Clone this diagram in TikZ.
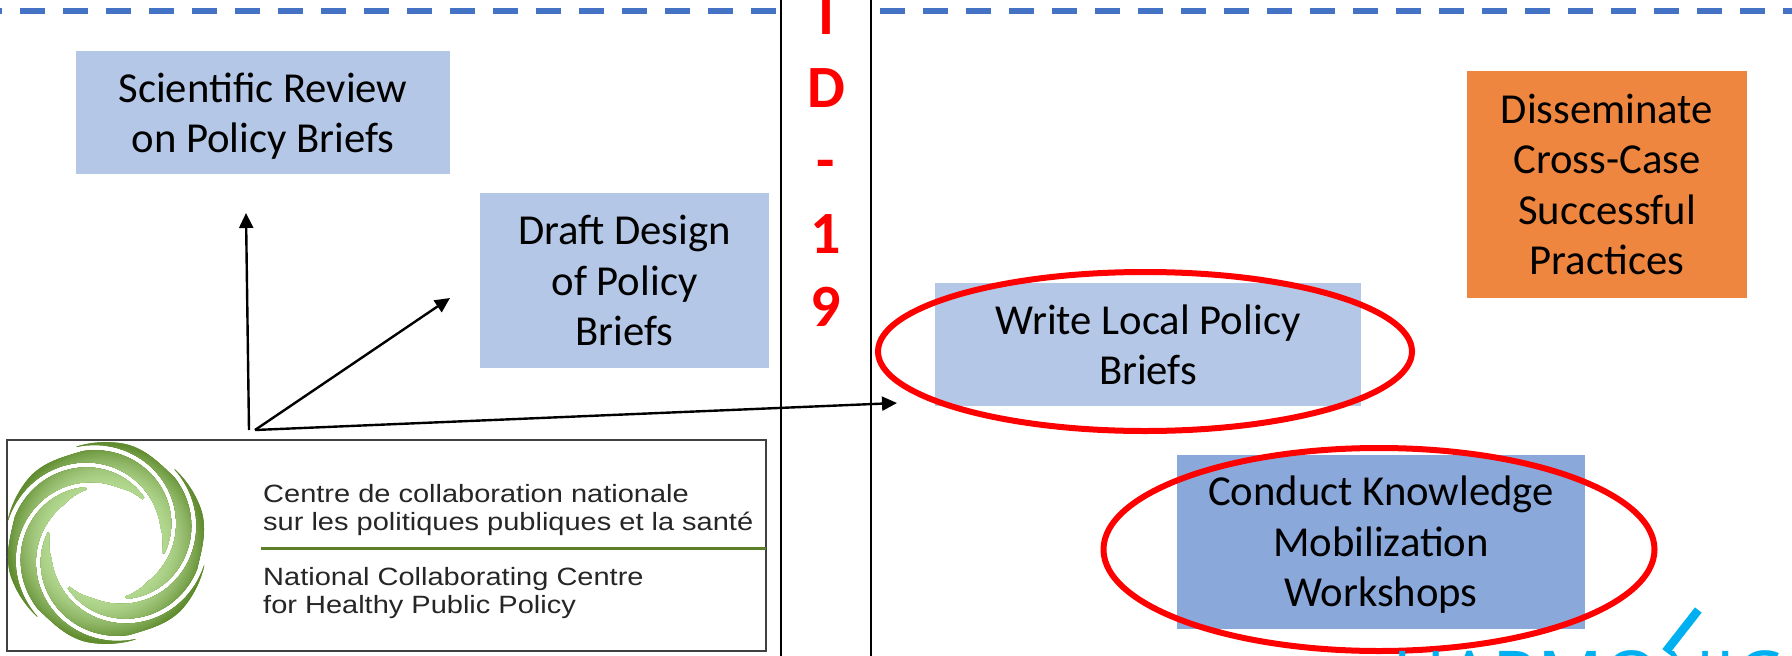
\documentclass[tikz,border=0pt]{standalone}
\usepackage{fontspec}
\setmainfont{Carlito}
\newfontfamily\logofont[FakeStretch=1.16]{Liberation Sans}
\newfontfamily\markfont{Open Sans}
\usetikzlibrary{arrows.meta,shapes.geometric}
\definecolor{boxlight}{HTML}{B4C7E7}
\definecolor{boxmid}{HTML}{8AA8DA}
\definecolor{boxorange}{HTML}{EE8640}
\definecolor{dashblue}{HTML}{4472C4}
\definecolor{logorule}{HTML}{5E7F2A}
\definecolor{markcyan}{HTML}{00B0F0}
\definecolor{leafdark}{HTML}{5F8A2E}
\definecolor{leaflight}{HTML}{B2D78F}
\tikzset{
  stepbox/.style={rectangle,inner sep=0pt},
  steptext/.style={inner sep=0pt,align=center,font=\fontsize{42.7}{50.5}\selectfont,text=black},
  ring/.style={ellipse,draw=red,line width=6pt,inner sep=0pt,fill=none},
  arrowline/.style={-{Triangle[length=15pt,width=14pt]},line width=2.4pt,black},
  logotext/.style={anchor=base west,inner sep=0pt,font=\logofont\fontsize{25}{28}\selectfont,text=black!85},
  declare function={
    clampf(\s)=min(1,max(0,\s));
    ssf(\s)=clampf(\s)*clampf(\s)*(3-2*clampf(\s));
    fin(\t)=97-42*(.5*clampf(\t/.85)+.5*ssf(\t/.85));
    fout(\t)=(\t<.339 ? 97.5-6*ssf((\t-.15)/.19) : fin(\t-.339)-5);
  },
}
\begin{document}
\begin{tikzpicture}[x=1pt,y=-1pt]
\useasboundingbox (0,0) rectangle (1792,656);
\clip (0,0) rectangle (1792,656);
% dashed rule
\draw[dashblue,line width=6pt,dash pattern=on 25pt off 18pt] (-23,11) -- (1820,11);
% column
\fill[white] (781,-2) rectangle (871,660);
\draw[black,line width=2.4pt] (781,-2) -- (781,660);
\draw[black,line width=2.4pt] (871,-2) -- (871,660);
\node[anchor=north,inner sep=0pt,align=center,text=red,font=\bfseries\fontsize{60}{73}\selectfont] (covid) at (826,-5) {I\\D\\-\\1\\9};
% boxes
\node[stepbox,fill=boxlight,minimum width=374pt,minimum height=123pt] (review) at (263,112.5) {};
\node[steptext,yshift=-3.5pt] (reviewt) at (review) {Scientific Review\\on Policy Briefs};
\node[stepbox,fill=boxlight,minimum width=289pt,minimum height=175pt] (draft) at (624.5,280.5) {};
\node[steptext] (draftt) at (draft) {Draft Design\\of Policy\\Briefs};
\node[stepbox,fill=boxorange,minimum width=280pt,minimum height=227pt] (diss) at (1607,184.5) {};
\node[steptext] (disst) at (diss) {Disseminate\\Cross-Case\\Successful\\Practices};
\node[stepbox,fill=boxlight,minimum width=426pt,minimum height=123pt] (write) at (1148,344.5) {};
\node[steptext,yshift=-0.5pt] (writet) at (write) {Write Local Policy\\Briefs};
\node[stepbox,fill=boxmid,minimum width=408pt,minimum height=174pt] (conduct) at (1381,542) {};
\node[steptext,yshift=-3pt] (conductt) at (conduct) {Conduct Knowledge\\Mobilization\\Workshops};
% rings
\node[ring,minimum width=534pt,minimum height=159pt] (ringa) at (1145,351.5) {};
\node[ring,minimum width=551pt,minimum height=203pt] (ringb) at (1379,549.5) {};
% logo
\node[draw=black!75,line width=1.5pt,fill=white,minimum width=759pt,minimum height=211pt,inner sep=0pt] (logobox) at (386.5,545.5) {};
\begin{scope}[shift={(106,543)},yscale=-1,scale=1.035]
\foreach \a in {0,60,...,300}{
\begin{scope}[rotate=\a]
\clip plot[samples=60,domain=0:1,variable=\u] ({107-177*\u}:{fout(\u)})
 -- plot[samples=60,domain=1:0,variable=\u] ({107-177*\u}:{fin(\u)}) -- cycle;
\foreach \r in {100,98,...,52}{
  \pgfmathsetmacro{\m}{100*pow(min(1,max(0,(\r-56)/41)),1.5)}
  \fill[leafdark!\m!leaflight] (0,0) circle (\r);
}
\end{scope}
}
\end{scope}
\node[logotext] (l1) at (263,502) {Centre de collaboration nationale};
\node[logotext] (l2) at (263,530) {sur les politiques publiques et la santé};
\node[logotext] (l3) at (263,585) {National Collaborating Centre};
\node[logotext] (l4) at (263,613) {for Healthy Public Policy};
\coordinate (rulea) at (261,548);
\coordinate (ruleb) at (766,548);
\draw[logorule,line width=3pt] (rulea) -- (ruleb);
% arrows
\coordinate (srca) at (249,430);
\coordinate (srcb) at (255,430);
\coordinate (enda) at (246,213);
\coordinate (endb) at (450,298);
\coordinate (endc) at (897,403);
\draw[arrowline] (srca) -- (enda);
\draw[arrowline] (srcb) -- (endb);
\draw[arrowline] (srcb) -- (endc);
% cropped mark
\node[anchor=base west,inner sep=0pt,text=markcyan,font=\markfont\fontsize{73}{76}\selectfont] (mark) at (1392,703) {HARMONIC};
\coordinate (ticka) at (1698.3,610);
\coordinate (tickb) at (1665.7,651.7);
\coordinate (tickc) at (1660,659);
\draw[white,line width=13pt] (tickb) -- (tickc);
\draw[markcyan,line width=8.5pt] (ticka) -- (tickb);
\end{tikzpicture}
\end{document}
